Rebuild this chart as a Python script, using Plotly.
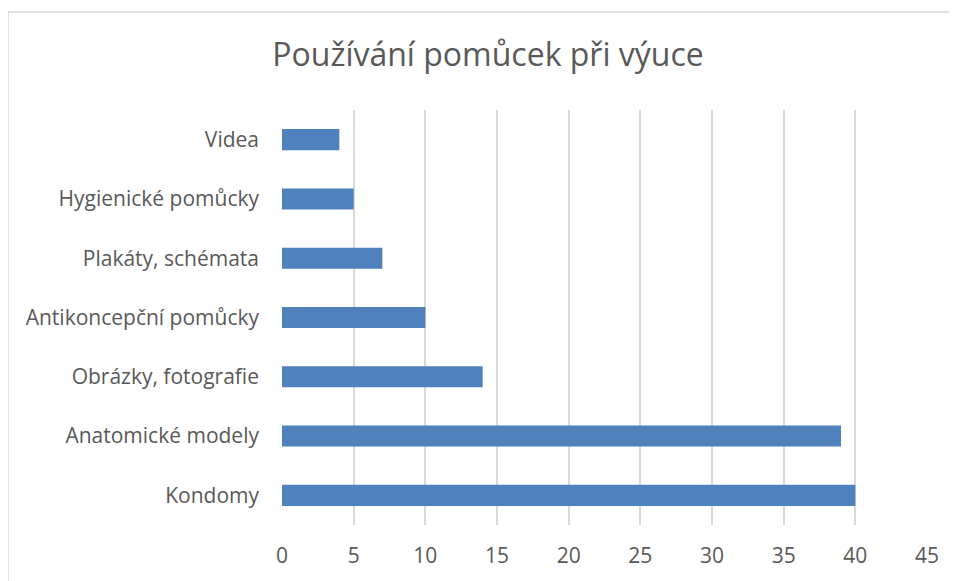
import plotly.graph_objects as go

categories = ["Kondomy", "Anatomické modely", "Obrázky, fotografie",
              "Antikoncepční pomůcky", "Plakáty, schémata",
              "Hygienické pomůcky", "Videa"]
values = [40, 39, 14, 10, 7, 5, 4]
x_ticks = [0, 5, 10, 15, 20, 25, 30, 35, 40, 45]
title_text = "Používání pomůcek při výuce"

font_family = "Open Sans, Noto Sans, sans-serif"
text_color = "#595959"
grid_color = "#d9d9d9"

# page body has an 8px margin; layout is shifted to compensate
OFF = 8
W, H = 957, 581
plot_l, plot_r, plot_t, plot_b = 282 - OFF, 927 - OFF, 110 - OFF, 525 - OFF
pw, ph = plot_r - plot_l, plot_b - plot_t

fig = go.Figure(go.Bar(
    y=categories, x=values, orientation="h",
    marker=dict(color="#4F81BD", line=dict(width=0)),
    width=0.355,
))

fig.update_layout(
    width=W, height=H,
    margin=dict(l=plot_l, r=W - plot_r, t=plot_t, b=H - plot_b, autoexpand=False),
    paper_bgcolor="white", plot_bgcolor="white",
    title=dict(text=title_text, x=(488 - OFF) / W, xanchor="center",
               y=1 - (55 - OFF) / H, yanchor="middle", yref="container",
               font=dict(family=font_family, size=32, color=text_color)),
    font=dict(family=font_family, color=text_color),
    showlegend=False,
    xaxis=dict(range=[0, 45], tickvals=x_ticks, showgrid=True,
               gridcolor=grid_color, gridwidth=1.5, zeroline=False,
               showline=False, ticks="", ticklabelstandoff=16,
               tickfont=dict(size=21, color=text_color)),
    yaxis=dict(categoryorder="array", categoryarray=categories,
               showgrid=False, zeroline=False, showline=False, ticks="",
               ticklabelstandoff=22,
               tickfont=dict(size=21, color=text_color)),
    shapes=[dict(type="rect", xref="paper", yref="paper",
                 x0=(8 - OFF - plot_l) / pw, x1=1.2,
                 y0=-0.3, y1=(plot_b - (12 - OFF)) / ph,
                 line=dict(color=grid_color, width=1.5), layer="below")],
)
fig.write_html("out.html")
